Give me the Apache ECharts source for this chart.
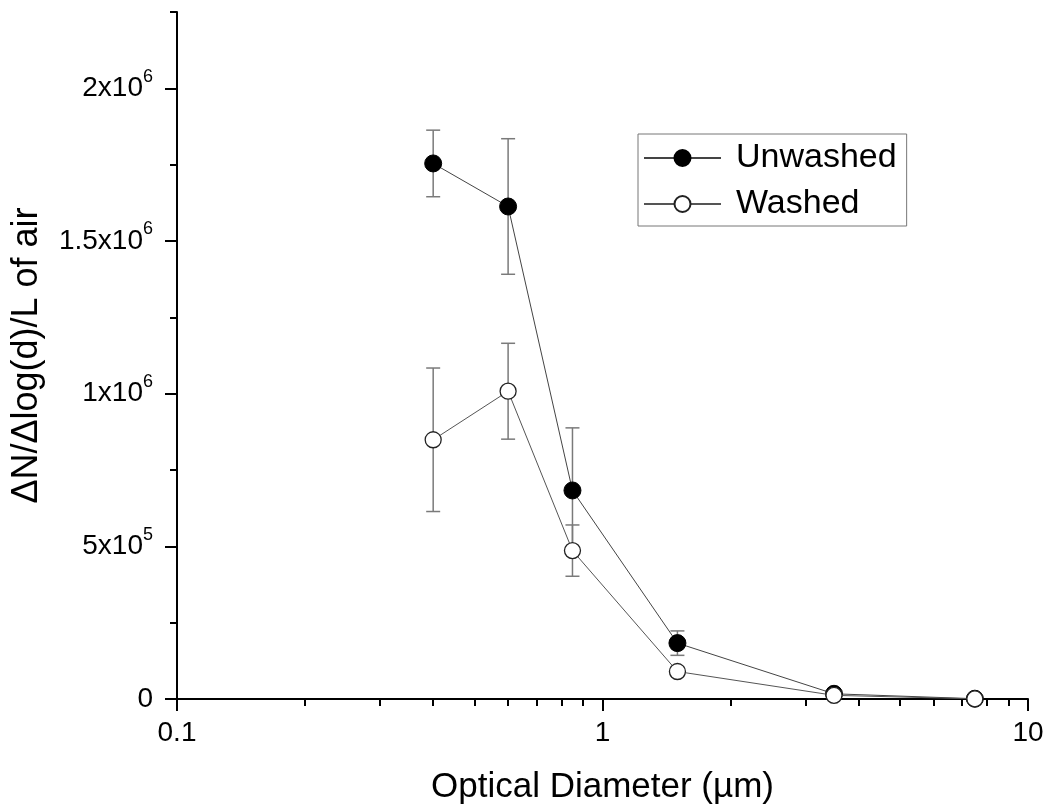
<!DOCTYPE html>
<html><head><meta charset="utf-8">
<script src="https://cdn.jsdelivr.net/npm/echarts@6/dist/echarts.min.js"></script>
<style>html,body{margin:0;padding:0;background:#fff}#c{width:1049px;height:811px}</style>
</head><body><div id="c"></div>
<script>
const diameters = [0.4, 0.6, 0.85, 1.5, 3.5, 7.5];
const unwashed = [1754000, 1613000, 683000, 183000, 17000, 1000];
const unwashedErr = [109000, 222000, 205000, 40000, 6000, 0];
const washed = [849000, 1008000, 486000, 90000, 12000, 500];
const washedErr = [235000, 157000, 84000, 15000, 5000, 0];
const xMinorTicks = [0.2, 0.3, 0.4, 0.5, 0.6, 0.7, 0.8, 0.9, 2, 3, 4, 5, 6, 7, 8, 9];
const yMajorTicks = [0, 500000, 1000000, 1500000, 2000000];
const seriesNames = ['Unwashed', 'Washed'];

const FONT = "'Liberation Sans', Arial, sans-serif";
const chart = echarts.init(document.getElementById('c'));

function errorSeries(vals, errs) {
  return {
    type: 'custom', xAxisIndex: 0, yAxisIndex: 0, silent: true, z: 1,
    encode: { x: 0, y: [1, 2] },
    data: diameters.map((d, i) => [d, vals[i] - errs[i], vals[i] + errs[i]]),
    renderItem: function (params, api) {
      const x = api.value(0);
      if (api.value(1) === api.value(2)) return null;
      const lo = api.coord([x, api.value(1)]);
      const hi = api.coord([x, api.value(2)]);
      const hw = 7;
      const style = { stroke: '#7a7a7a', lineWidth: 1.5, fill: null };
      return { type: 'group', children: [
        { type: 'line', shape: { x1: lo[0], y1: lo[1], x2: hi[0], y2: hi[1] }, style: style },
        { type: 'line', shape: { x1: lo[0] - hw, y1: lo[1], x2: lo[0] + hw, y2: lo[1] }, style: style },
        { type: 'line', shape: { x1: hi[0] - hw, y1: hi[1], x2: hi[0] + hw, y2: hi[1] }, style: style }
      ]};
    }
  };
}

function yFmt(v) {
  if (v === 0) return '0';
  const e = Math.floor(Math.log10(v) + 1e-9);
  const m = +(v / Math.pow(10, e)).toFixed(2);
  return m + 'x10{sup|' + e + '}';
}

const option = {
  backgroundColor: '#fff',
  animation: false,
  grid: { left: 177, right: 21, top: 12, bottom: 112, containLabel: false, outerBoundsMode: 'none' },
  legend: {
    data: seriesNames,
    orient: 'vertical', left: 638, top: 134,
    padding: [7, 10, 5, 5], itemGap: 12,
    itemWidth: 77, itemHeight: 20,
    borderColor: '#777', borderWidth: 1,
    textStyle: { fontFamily: FONT, fontSize: 34, lineHeight: 34, color: '#000', padding: [0, 0, 0, 10] }
  },
  xAxis: [{
    type: 'log', logBase: 10, min: 0.1, max: 10,
    name: 'Optical Diameter (µm)', nameLocation: 'middle', nameGap: 71,
    nameTextStyle: { fontFamily: FONT, fontSize: 35, color: '#000' },
    axisLine: { lineStyle: { color: '#000', width: 2 } },
    axisTick: { length: 12, lineStyle: { color: '#000', width: 2 } },
    axisLabel: { fontFamily: FONT, fontSize: 28, color: '#000', margin: 20 },
    splitLine: { show: false }
  }, {
    type: 'log', logBase: 10, min: 0.1, max: 10, position: 'bottom',
    axisLine: { show: false },
    axisTick: { length: 7, customValues: xMinorTicks, lineStyle: { color: '#000', width: 2 } },
    axisLabel: { show: false },
    splitLine: { show: false }
  }],
  yAxis: [{
    type: 'value', min: 0, max: 2250000, interval: 500000,
    name: 'ΔN/Δlog(d)/L of air', nameLocation: 'middle', nameGap: 132, nameRotate: 90,
    nameTextStyle: { fontFamily: FONT, fontSize: 36, color: '#000' },
    axisLine: { show: true, lineStyle: { color: '#000', width: 2 } },
    axisTick: { show: true, length: 12, customValues: yMajorTicks, lineStyle: { color: '#000', width: 2 } },
    axisLabel: {
      fontFamily: FONT, fontSize: 28, color: '#000', margin: 24,
      customValues: yMajorTicks, formatter: yFmt,
      rich: { sup: { fontFamily: FONT, fontSize: 18, color: '#000', padding: [0, 0, 23, 0] } }
    },
    splitLine: { show: false }
  }, {
    type: 'value', min: 0, max: 2250000, interval: 250000, position: 'left',
    axisLine: { show: false },
    axisTick: { show: true, length: 7, lineStyle: { color: '#000', width: 2 } },
    axisLabel: { show: false },
    splitLine: { show: false }
  }],
  series: [
    errorSeries(unwashed, unwashedErr),
    errorSeries(washed, washedErr),
    {
      name: seriesNames[0], type: 'line', xAxisIndex: 0, yAxisIndex: 0, z: 3,
      data: diameters.map((d, i) => [d, unwashed[i]]),
      symbol: 'circle', symbolSize: 17,
      itemStyle: { color: '#000', borderColor: '#000', borderWidth: 1 },
      lineStyle: { color: '#444', width: 1 }
    },
    {
      name: seriesNames[1], type: 'line', xAxisIndex: 0, yAxisIndex: 0, z: 4,
      data: diameters.map((d, i) => [d, washed[i]]),
      symbol: 'circle', symbolSize: 16,
      itemStyle: { color: '#fff', borderColor: '#222', borderWidth: 1.3 },
      lineStyle: { color: '#555', width: 1 }
    }
  ]
};
chart.setOption(option);
</script></body></html>
